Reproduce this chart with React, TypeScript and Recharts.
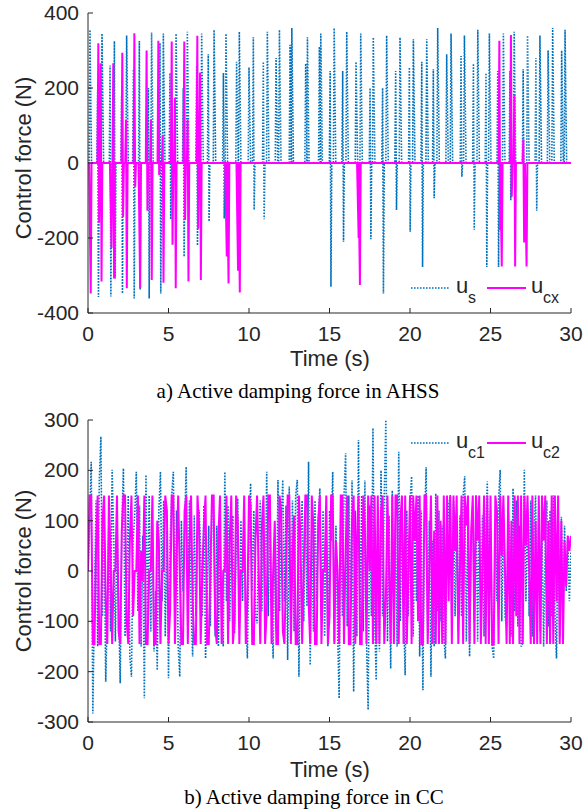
import React from 'react';
import { LineChart, Line, XAxis, YAxis } from 'recharts';

// panel a) spike events: time (s), positive peak and negative peak (N)
const usTime = [0.12, 0.6, 0.87, 1.37, 1.64, 2.09, 2.4, 2.82, 3.19, 3.75, 3.95, 4.47, 4.68, 5.09, 5.47, 5.92, 6.17, 6.75, 7.06, 7.47, 7.83, 8.41, 8.57, 9.23, 9.4, 10.0, 10.27, 10.89, 11.14, 11.68, 11.89, 12.55, 12.66, 13.52, 13.63, 14.37, 14.46, 15.04, 15.29, 15.82, 16.07, 16.65, 16.94, 17.52, 17.72, 18.3, 18.55, 19.11, 19.38, 19.96, 20.21, 20.73, 21.04, 21.45, 21.72, 22.28, 22.55, 23.17, 23.38, 23.94, 24.21, 24.72, 24.93, 25.45, 25.8, 26.21, 26.47, 27.03, 27.3, 27.82, 28.07, 28.58, 28.86, 29.42, 29.63];
const usPeak = [355, 195, 345, 260, 325, 180, 340, 250, 325, 200, 348, 320, 345, 240, 345, 200, 350, 260, 345, 290, 355, 240, 345, 270, 350, 255, 335, 270, 350, 280, 355, 315, 360, 265, 335, 310, 345, 245, 360, 245, 350, 270, 345, 200, 335, 200, 340, 245, 335, 255, 330, 270, 330, 250, 360, 290, 345, 285, 340, 265, 355, 240, 345, 245, 345, 245, 350, 250, 340, 280, 340, 300, 360, 300, 355];
const usTrough = [0, -357, 0, -356, -308, -348, 0, -361, -338, -361, 0, -348, 0, -150, 0, -250, 0, -220, 0, -156, 0, -148, 0, 0, 0, 0, -125, -150, 0, 0, 0, 0, 0, 0, 0, 0, 0, -330, 0, -210, 0, 0, 0, -203, 0, -348, 0, -125, 0, -183, 0, -277, 0, -94, 0, 0, 0, -37, 0, -178, 0, -277, 0, -277, 0, -99, 0, -120, 0, -127, 0, 0, 0, 0, 0];

const cxTime = [0.12, 0.64, 0.79, 1.41, 1.57, 2.13, 2.36, 2.88, 3.19, 3.64, 3.91, 4.37, 4.64, 5.2, 5.4, 5.98, 6.19, 6.79, 6.96, 8.57, 8.68, 9.27, 9.38, 16.76, 16.84, 25.55, 25.65, 26.27, 26.48, 27.04, 27.19];
const cxPeak = [0, 319, 266, 0, 266, 294, 115, 346, 0, 300, 115, 326, 75, 324, 174, 324, 115, 339, 241, 0, 0, 0, 0, 0, 0, 326, 0, 341, 181, 63, 0];
const cxTrough = [-348, -159, -316, -227, -308, -143, -334, -63, -334, -127, -312, -32, -319, -218, -334, -152, -316, -175, -312, -249, -321, -287, -345, -200, -325, -179, -276, -90, -276, -212, -276];

// panel b) sampled every 0.1 s from 0 to 30 s
const sampleStep = 0.1;
const c1Values = [
  0, 90, 217, -283, -60, 140, -150, 180, 267, -90,
  130, -220, -80, 110, -120, 201, 60, -140, 100, -60,
  -223, 90, 204, -130, -50, 150, -170, -210, 60, 110,
  197, -80, 130, -150, 70, -253, 191, -110, 150, -120,
  90, -160, -40, -197, 120, 197, -60, 140, -130, 80,
  -213, 60, 150, 197, -90, 120, -150, -210, 100, -40,
  90, 207, -120, 140, -70, -170, 110, -90, 60, 121,
  40, -90, 130, -174, -60, 90, -110, 120, 151, -130,
  90, -150, 70, -90, -150, 197, -60, 130, -100, 60,
  110, -124, 40, 144, -110, 100, -60, 130, -90, -174,
  60, 174, -40, 120, -90, -104, 60, 140, -80, 110,
  -50, 197, -90, 120, -60, -174, 90, -120, 181, -80,
  100, 181, -60, 130, -177, 168, -90, 140, -120, 150,
  181, -210, 60, 140, -100, 120, -70, 217, -187, 80,
  -120, 140, -60, 100, 164, -90, 120, -130, 80, -150,
  120, 60, 197, -140, 90, -120, -253, 130, -90, 150,
  234, -110, 150, -90, 180, -240, 120, -130, 260, -100,
  150, -120, 180, -140, -276, 130, -90, 284, -80, -217,
  120, -160, 200, -90, 150, 300, -140, 110, -194, 160,
  -120, 90, -150, 237, -100, 130, -80, -207, 120, -90,
  140, 188, -130, 100, -60, 150, -170, 120, -237, 90,
  206, -120, 100, -210, 60, -150, 154, -80, 120, -100,
  90, -130, -174, 60, 130, 151, -110, 140, -90, 80,
  -120, 110, -90, 150, 188, -140, 90, -170, 60, 130,
  -100, 150, -140, 128, -90, 110, -130, 60, 178, -60,
  120, -150, -174, 90, -60, 140, 201, -100, 130, -90,
  -111, 120, 60, -130, 164, -80, 140, -110, 90, -150,
  -144, 201, -60, 120, -90, 140, -130, 80, 150, -100,
  130, -120, 90, -150, 60, 140, -110, 120, -90, 150,
  -80, -174, 110, -130, 108, -100, 90, -40, 70, -60,
  40,
];
const c2Values = [
  0, 150, 150, -145, -145, 40, 150, -145, -145, 100,
  150, -60, -145, 150, 30, -145, 0, 0, 150, -120,
  -145, 80, 150, 150, -100, -145, 60, 150, -90, 0,
  0, 150, -145, 40, -20, 150, -145, -145, 0, 0,
  150, -145, -145, 100, 60, -145, 0, 0, 150, 120,
  -145, -80, 150, 150, -145, 20, 150, 0, -145, -145,
  120, 150, -145, 50, 150, -60, -145, -145, 150, 90,
  -145, 0, 90, 150, -145, -145, 0, 150, 150, -110,
  -145, 70, 150, -145, 0, 0, 150, -145, 60, 150,
  -145, -100, 150, 100, -145, 0, 0, 150, -145, -60,
  150, 130, -145, -145, 60, 150, 0, -145, 90, 150,
  -145, -80, 150, 150, -145, 0, 100, -145, -145, 150,
  120, -120, -145, 0, 150, 150, -145, 30, 110, -145,
  -145, 150, 60, -145, 0, 150, 150, -60, -145, 150,
  90, -145, -145, 100, 150, -145, 0, 0, 150, -145,
  -90, 150, 150, -145, 60, 0, -145, 150, 150, -145,
  40, 150, -145, -145, 100, 150, -145, 60, 150, -145,
  -145, 150, 80, -145, 150, 0, 150, -145, 150, -145,
  150, -145, 120, 150, -145, -60, 150, 0, -145, 150,
  -145, 150, 150, -145, 100, 150, -145, 150, -145, 0,
  150, -145, 150, 60, 150, -100, 150, -145, -145, 150,
  150, -145, 0, 150, -145, 80, -145, 150, -145, 100,
  -145, 150, -145, 150, -60, 150, -145, 150, 40, 150,
  -145, 0, 150, -145, 150, 90, 150, -145, 80, 150,
  -145, 150, 60, 150, -145, 0, 150, -145, 150, -145,
  150, -145, -145, 150, 120, -145, 150, 30, 150, 0,
  -145, 150, -145, 100, -145, 150, -90, 150, -145, 150,
  -145, 150, 50, 150, 0, -145, 150, -145, 100, -145,
  150, -145, 150, 60, 150, -145, 100, -145, 150, -145,
  150, -60, 150, -145, 100, -145, 60, -30, 70, 40,
  70,
];

const timeTicks = [0, 5, 10, 15, 20, 25, 30];
const topTicks = [-400, -200, 0, 200, 400];
const bottomTicks = [-300, -200, -100, 0, 100, 200, 300];

const BLUE = '#0072BD';
const MAGENTA = '#FF00FF';
const INK = '#262626';
const SANS = '"Liberation Sans", Arial, sans-serif';
const SERIF = '"Liberation Serif", "Times New Roman", serif';

// each event returns to zero right after its peak/trough
function spikes(times: number[], peaks: number[], troughs: number[]) {
  const pts: { t: number; v: number }[] = [{ t: 0, v: 0 }];
  times.forEach((t, i) => {
    pts.push({ t: t - 0.05, v: 0 });
    if (peaks[i]) pts.push({ t, v: peaks[i] });
    if (troughs[i]) pts.push({ t: t + 0.05, v: troughs[i] });
    pts.push({ t: t + 0.1, v: 0 });
  });
  pts.push({ t: 30, v: 0 });
  return pts;
}

const sampled = (vals: number[]) => vals.map((v, i) => ({ t: Math.round(i * sampleStep * 10) / 10, v }));

const usData = spikes(usTime, usPeak, usTrough);
const cxData = spikes(cxTime, cxPeak, cxTrough);
const c1Data = sampled(c1Values);
const c2Data = sampled(c2Values);

// axisY is in the chart's own svg coordinates
const xTick = (axisY: number) => (props: any) => {
  const { x, payload } = props;
  return (
    <g>
      <line x1={x} x2={x} y1={axisY} y2={axisY - 5} stroke={INK} />
      <text x={x} y={axisY + 28} textAnchor="middle" fontSize={21} fontFamily={SANS} fill={INK}>
        {payload.value}
      </text>
    </g>
  );
};

const yTick = (props: any) => {
  const { y, payload } = props;
  return (
    <g>
      <line x1={88} x2={93} y1={y} y2={y} stroke={INK} />
      <text x={79} y={y + 7} textAnchor="end" fontSize={21} fontFamily={SANS} fill={INK}>
        {payload.value}
      </text>
    </g>
  );
};

const Panel = ({ top, height, margin, axisY, domain, ticks, first, second }: any) => (
  <div style={{ position: 'absolute', left: 0, top }}>
    <LineChart width={585} height={height} margin={margin}>
      <XAxis
        type="number"
        dataKey="t"
        domain={[0, 30]}
        ticks={timeTicks}
        allowDataOverflow
        height={30}
        tickLine={false}
        axisLine={{ stroke: INK }}
        tick={xTick(axisY)}
      />
      <YAxis
        type="number"
        domain={domain}
        ticks={ticks}
        allowDataOverflow
        width={60}
        tickLine={false}
        axisLine={{ stroke: INK }}
        tick={yTick}
      />
      <Line data={first} dataKey="v" type="linear" stroke={BLUE} strokeWidth={1.6} strokeDasharray="1.6 1.4" dot={false} isAnimationActive={false} />
      <Line data={second} dataKey="v" type="linear" stroke={MAGENTA} strokeWidth={2} dot={false} isAnimationActive={false} />
    </LineChart>
  </div>
);

const LegendMarks = ({ y, a, b }: { y: number; a: string; b: string }) => (
  <g fontFamily={SANS} fill={INK}>
    <line x1={411} x2={450} y1={y} y2={y} stroke={BLUE} strokeWidth={1.6} strokeDasharray="1.6 1.4" />
    <text x={456} y={y + 5} fontSize={22}>u</text>
    <text x={468} y={y + 15} fontSize={16}>{a}</text>
    <line x1={487} x2={526} y1={y} y2={y} stroke={MAGENTA} strokeWidth={2} />
    <text x={531} y={y + 5} fontSize={22}>u</text>
    <text x={543} y={y + 15} fontSize={16}>{b}</text>
  </g>
);

export default function App() {
  return (
    <div style={{ position: 'absolute', left: 0, top: 0, width: 585, height: 810, background: '#fff' }}>
      <Panel
        top={0}
        height={400}
        margin={{ top: 13, right: 14, left: 28, bottom: 57 }}
        axisY={313}
        domain={[-400, 400]}
        ticks={topTicks}
        first={usData}
        second={cxData}
      />
      <Panel
        top={405}
        height={405}
        margin={{ top: 15, right: 14, left: 28, bottom: 58 }}
        axisY={317}
        domain={[-300, 300]}
        ticks={bottomTicks}
        first={c1Data}
        second={c2Data}
      />
      <svg width={585} height={810} style={{ position: 'absolute', left: 0, top: 0, pointerEvents: 'none' }}>
        <text x={31} y={158} transform="rotate(-90 31 158)" textAnchor="middle" fontSize={22} fontFamily={SANS} fill={INK}>
          Control force (N)
        </text>
        <text x={31} y={571} transform="rotate(-90 31 571)" textAnchor="middle" fontSize={22} fontFamily={SANS} fill={INK}>
          Control force (N)
        </text>
        <text x={330} y={366} textAnchor="middle" fontSize={22} fontFamily={SANS} fill={INK}>Time (s)</text>
        <text x={330} y={777} textAnchor="middle" fontSize={22} fontFamily={SANS} fill={INK}>Time (s)</text>
        <text x={298} y={398} textAnchor="middle" fontSize={21} fontFamily={SERIF} fill="#000">a) Active damping force in AHSS</text>
        <text x={314} y={804} textAnchor="middle" fontSize={21} fontFamily={SERIF} fill="#000">b) Active damping force in CC</text>
        <LegendMarks y={288} a="s" b="cx" />
        <LegendMarks y={443} a="c1" b="c2" />
      </svg>
    </div>
  );
}
